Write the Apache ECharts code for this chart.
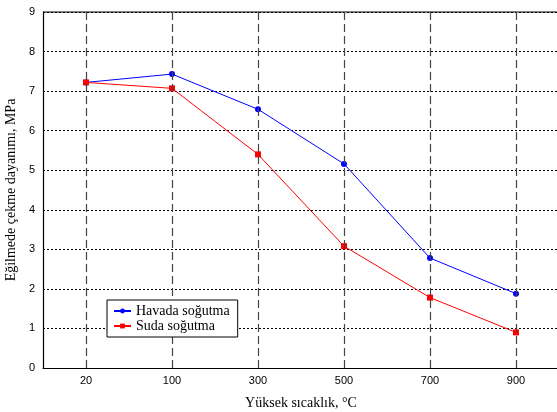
<!DOCTYPE html>
<html><head><meta charset="utf-8">
<script src="https://cdn.jsdelivr.net/npm/echarts@6/dist/echarts.min.js"></script>
<style>html,body{margin:0;padding:0;background:#fff}#c{width:557px;height:412px}</style>
</head><body><div id="c"></div>
<script>
const categories = ['20','100','300','500','700','900'];
const havada = [7.22, 7.43, 6.54, 5.16, 2.78, 1.88];
const suda = [7.22, 7.07, 5.40, 3.08, 1.78, 0.90];
const yTicks = [0,1,2,3,4,5,6,7,8,9];

const chart = echarts.init(document.getElementById('c'));
chart.setOption({
  animation: false,
  grid: {left: 43, right: -2, top: 12, bottom: 44, containLabel: false, outerBoundsMode: 'none'},
  xAxis: {
    type: 'category', data: categories, boundaryGap: true,
    name: 'Yüksek sıcaklık, °C', nameLocation: 'middle', nameGap: 28,
    nameTextStyle: {fontFamily: 'Liberation Serif', fontSize: 14, color: '#000'},
    axisLine: {lineStyle: {color: '#000', width: 1.2}},
    axisTick: {show: false},
    axisLabel: {fontFamily: 'Liberation Sans', fontSize: 11, color: '#000', margin: 7},
    splitLine: {show: false}
  },
  yAxis: {
    type: 'value', min: 0, max: 9, interval: 1,
    name: 'Eğilmede çekme dayanımı, MPa', nameLocation: 'middle', nameGap: 20,
    nameTextStyle: {fontFamily: 'Liberation Serif', fontSize: 14, color: '#000'},
    axisLine: {show: true, lineStyle: {color: '#000', width: 1.2}},
    axisTick: {show: false},
    axisLabel: {fontFamily: 'Liberation Sans', fontSize: 11, color: '#000', margin: 8,
      formatter: v => yTicks.includes(v) ? String(v) : ''},
    splitLine: {show: true, lineStyle: {color: '#000', type: [2, 2], width: 1}}
  },
  legend: {
    left: 107, top: 300, orient: 'vertical', itemGap: 1, z: 50,
    itemWidth: 17, itemHeight: 6,
    backgroundColor: '#fff', borderColor: '#000', borderWidth: 1,
    padding: [4, 8, 4, 6],
    textStyle: {fontFamily: 'Liberation Serif', fontSize: 14, lineHeight: 14, color: '#000'},
    data: ['Havada soğutma', 'Suda soğutma']
  },
  series: [
    {name: 'grid', type: 'line', data: [], z: 1, silent: true,
     markLine: {
       silent: true, symbol: ['none', 'none'], label: {show: false},
       lineStyle: {color: '#444', type: [8, 4], width: 1.2},
       data: categories.map(c => ({xAxis: c}))
     }},
    {name: 'Havada soğutma', type: 'line', data: havada, color: '#0000ff',
     symbol: 'circle', symbolSize: 6, lineStyle: {width: 1}, z: 3},
    {name: 'Suda soğutma', type: 'line', data: suda, color: '#ff0000',
     symbol: 'rect', symbolSize: 6, lineStyle: {width: 1}, z: 4}
  ],
  graphic: [{type: 'line', shape: {x1: 43, y1: 12, x2: 557, y2: 12}, style: {stroke: '#000', lineWidth: 1.2}}]
});
</script></body></html>
